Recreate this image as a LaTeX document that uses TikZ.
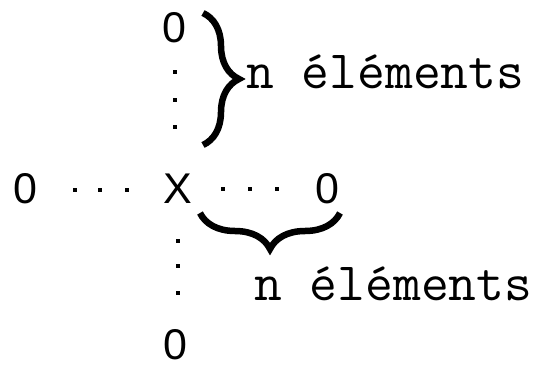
\documentclass[tikz,border=0pt]{standalone}
\usepackage{fontspec}
\usetikzlibrary{decorations.pathreplacing}
\newfontfamily\digitfont{Liberation Sans}
\begin{document}
\begin{tikzpicture}[x=1pt,y=-1pt,
  entry/.style={font=\digitfont\fontsize{43}{43}\selectfont, inner sep=0pt, anchor=base},
  lab/.style={font=\ttfamily\fontsize{54}{54}\selectfont, inner sep=0pt, anchor=base west},
  dotmark/.style={fill=black, draw=none, minimum size=4pt, inner sep=0pt, rectangle},
  bracestyle/.style={line width=6.5pt, decorate, decoration={brace, amplitude=36pt}}]
\useasboundingbox[fill=white] (0,0) rectangle (544,367);
% entries
\node[entry] (top) at (174,42) {0};
\node[entry] (left) at (25,203) {0};
\node[entry] (x) at (178,203) {X};
\node[entry] (right) at (327,203) {0};
\node[entry] (bottom) at (175,359) {0};
% dots
\node[dotmark] (tv1) at (175,72) {};
\node[dotmark] (tv2) at (175,100) {};
\node[dotmark] (tv3) at (175,127) {};
\node[dotmark] (lh1) at (75,190) {};
\node[dotmark] (lh2) at (100,190) {};
\node[dotmark] (lh3) at (127,190) {};
\node[dotmark] (rh1) at (223,189) {};
\node[dotmark] (rh2) at (250,189) {};
\node[dotmark] (rh3) at (277,189) {};
\node[dotmark] (bv1) at (178,241) {};
\node[dotmark] (bv2) at (178,266) {};
\node[dotmark] (bv3) at (178,293) {};
% braces
\coordinate (b1s) at (203,13);
\coordinate (b1e) at (203,145);
\coordinate (b2s) at (340,213);
\coordinate (b2e) at (200,213);
\draw[bracestyle] (b1s) -- (b1e);
\draw[bracestyle] (b2s) -- (b2e);
% labels
\node[lab] (ltop) at (246,88) {n éléments};
\node[lab] (lbot) at (254,300) {n éléments};
\end{tikzpicture}
\end{document}
